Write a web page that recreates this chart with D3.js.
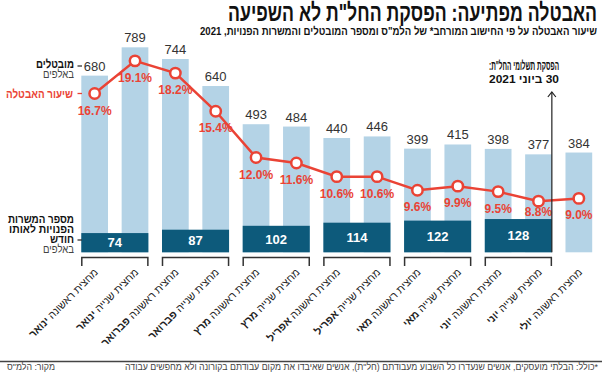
<!DOCTYPE html>
<html>
<head>
<meta charset="utf-8">
<script src="https://cdn.jsdelivr.net/npm/d3@7"></script>
<style>
    body { margin: 0; background: #fff; }
    svg { display: block; font-family: "Liberation Sans Narrow", "Liberation Sans", "DejaVu Sans", sans-serif; }
    .rtl { direction: rtl; unicode-bidi: embed; }
</style>
</head>
<body>
<svg id="chart" width="602" height="372"></svg>
<script>
// data
const categories = [
    'מחצית ראשונה ינואר', 'מחצית שנייה ינואר',
    'מחצית ראשונה פברואר', 'מחצית שנייה פברואר',
    'מחצית ראשונה מרץ', 'מחצית שנייה מרץ',
    'מחצית ראשונה אפריל', 'מחצית שנייה אפריל',
    'מחצית ראשונה מאי', 'מחצית שנייה מאי',
    'מחצית ראשונה יוני', 'מחצית שנייה יוני',
    'מחצית ראשונה יולי'
];
const unemployed = [680, 789, 744, 640, 493, 484, 440, 446, 399, 415, 398, 377, 384];
const unemploymentRate = [16.7, 19.1, 18.2, 15.4, 12.0, 11.6, 10.6, 10.6, 9.6, 9.9, 9.5, 8.8, 9.0];
const months = ['ינואר', 'פברואר', 'מרץ', 'אפריל', 'מאי', 'יוני'];
const vacancies = [74, 87, 102, 114, 122, 128];

const lightBlue = '#b4d3e6';
const darkBlue = '#0d5a7b';
const red = '#ea4335';

const svg = d3.select('#chart');

// right-aligned hebrew text, squeezed to the width it has in the print version
function heb(parent, str, xPos, yPos, size, width) {
    const t = parent.append('text')
        .attr('class', 'rtl')
        .attr('x', xPos).attr('y', yPos)
        .attr('text-anchor', 'start')
        .attr('font-size', size)
        .text(str);
    if (width) t.attr('textLength', width).attr('lengthAdjust', 'spacingAndGlyphs');
    return t;
}

const x = d3.scaleBand()
    .domain(d3.range(categories.length))
    .range([81.3, 592.2])
    .paddingInner(0.338)
    .paddingOuter(0);

const baseY = 252.3;
const yCount = d3.scaleLinear().domain([0, 800]).range([baseY, baseY - 800 * 0.2598]);
const yRate = d3.scaleLinear().domain([0, 20]).range([321, 48.6]);

// title
heb(svg, 'האבטלה מפתיעה: הפסקת החל"ת לא השפיעה', 597, 21, 24, 369)
    .attr('font-weight', 'bold').attr('fill', '#111');
heb(svg, 'שיעור האבטלה על פי החישוב המורחב* של הלמ"ס ומספר המובטלים והמשרות הפנויות, 2021', 597, 35, 11.5, 397)
    .attr('font-weight', 'bold').attr('fill', '#111');

// light bars: unemployed
svg.append('g')
    .selectAll('rect')
    .data(unemployed)
    .enter().append('rect')
    .attr('x', (d, i) => x(i))
    .attr('y', d => yCount(d))
    .attr('width', x.bandwidth())
    .attr('height', d => baseY - yCount(d))
    .attr('fill', lightBlue);

svg.append('g')
    .selectAll('text')
    .data(unemployed)
    .enter().append('text')
    .attr('x', (d, i) => x(i) + x.bandwidth() / 2)
    .attr('y', d => yCount(d) - 5)
    .attr('text-anchor', 'middle')
    .attr('font-size', 13).attr('fill', '#333')
    .text(d => d);

// dark bars: vacancies, one per month spanning both halves
const pairX = i => x(i * 2);
const pairW = i => x(i * 2 + 1) + x.bandwidth() - x(i * 2);

svg.append('g')
    .selectAll('rect')
    .data(vacancies)
    .enter().append('rect')
    .attr('x', (d, i) => pairX(i))
    .attr('y', d => yCount(d))
    .attr('width', (d, i) => pairW(i))
    .attr('height', d => baseY - yCount(d))
    .attr('fill', darkBlue);

svg.append('g')
    .selectAll('text')
    .data(vacancies)
    .enter().append('text')
    .attr('x', (d, i) => pairX(i) + pairW(i) / 2)
    .attr('y', d => (yCount(d) + baseY) / 2 + 4.5)
    .attr('text-anchor', 'middle')
    .attr('font-size', 13).attr('font-weight', 'bold').attr('fill', '#fff')
    .text(d => d);

// month brackets
const brackets = svg.append('g')
    .attr('fill', 'none').attr('stroke', '#333').attr('stroke-width', 1.5);
months.forEach((m, i) => {
    const x0 = pairX(i) + 0.5, x1 = pairX(i) + pairW(i) - 0.5;
    brackets.append('path')
        .attr('d', `M${x0},266 V257.5 H${x1} V266`);
});

// category labels, rotated
const labels = svg.append('g');
categories.forEach((c, i) => {
    const cut = c.lastIndexOf(' ');
    const t = labels.append('text')
        .attr('class', 'rtl')
        .attr('text-anchor', 'start')
        .attr('font-size', 10.5).attr('fill', '#222')
        .attr('transform', `translate(${x(i) + x.bandwidth() / 2 + 4},${273}) rotate(-45)`);
    t.append('tspan').text(c.slice(0, cut + 1));
    t.append('tspan').attr('font-weight', 'bold').text(c.slice(cut + 1));
});

// unemployment rate line
const line = d3.line()
    .x((d, i) => x(i) + x.bandwidth() / 2)
    .y(d => yRate(d));

svg.append('path')
    .datum(unemploymentRate)
    .attr('d', line)
    .attr('fill', 'none')
    .attr('stroke', red)
    .attr('stroke-width', 2.5);

svg.append('g')
    .selectAll('circle')
    .data(unemploymentRate)
    .enter().append('circle')
    .attr('cx', (d, i) => x(i) + x.bandwidth() / 2)
    .attr('cy', d => yRate(d))
    .attr('r', 5.2)
    .attr('fill', '#fff')
    .attr('stroke', red)
    .attr('stroke-width', 2.5);

svg.append('g')
    .selectAll('text')
    .data(unemploymentRate)
    .enter().append('text')
    .attr('x', (d, i) => x(i) + x.bandwidth() / 2)
    .attr('y', (d, i) => {
        const v = vacancies[Math.floor(i / 2)];
        const below = yRate(d) + 21;
        return v === undefined ? below : Math.min(below, yCount(v) - 3);
    })
    .attr('text-anchor', 'middle')
    .attr('font-size', 12).attr('font-weight', 'bold').attr('fill', red)
    .text(d => d.toFixed(1) + '%');

// legend on the left
const legend = svg.append('g');
heb(legend, 'מובטלים', 74, 68, 12, 38).attr('font-weight', 'bold').attr('fill', '#111');
heb(legend, 'באלפים', 74, 78, 11, 31).attr('fill', '#444');
heb(legend, 'שיעור האבטלה', 73, 97.5, 12, 67).attr('font-weight', 'bold').attr('fill', red);

[['מספר המשרות', 66], ['הפנויות לאותו', 65], ['חודש', 24]].forEach((s, i) => {
    heb(legend, s[0], 74, 223 + i * 10, 11, s[1]).attr('font-weight', 'bold').attr('fill', '#111');
});
heb(legend, 'באלפים', 74, 253, 11, 31).attr('fill', '#444');

legend.selectAll('line.dash')
    .data([[66, '#333'], [93.5, red], [240, '#333']])
    .enter().append('line')
    .attr('x1', 77.5).attr('x2', 82)
    .attr('y1', d => d[0]).attr('y2', d => d[0])
    .attr('stroke', d => d[1]).attr('stroke-width', 1.3);

// annotation: end of furlough payments
const arrowX = pairX(5) + pairW(5);
svg.append('line')
    .attr('x1', arrowX).attr('x2', arrowX)
    .attr('y1', 92).attr('y2', baseY)
    .attr('stroke', '#222').attr('stroke-width', 1.2);
svg.append('path')
    .attr('d', `M${arrowX - 4},97 L${arrowX},92 L${arrowX + 4},97`)
    .attr('fill', 'none').attr('stroke', '#222').attr('stroke-width', 1.2);
heb(svg, 'הפסקת תשלומי החל"ת:', 559, 70, 12.5, 70).attr('font-weight', 'bold').attr('fill', '#111');
heb(svg, '30 ביוני 2021', 559, 82.5, 11.5, 70).attr('font-weight', 'bold').attr('fill', '#111');

// footer
svg.append('line')
    .attr('x1', 0).attr('x2', 602)
    .attr('y1', 361.5).attr('y2', 361.5)
    .attr('stroke', '#444').attr('stroke-width', 1.5);
heb(svg, '*כולל: הבלתי מועסקים, אנשים שנעדרו כל השבוע מעבודתם (חל"ת), אנשים שאיבדו את מקום עבודתם בקורונה ולא מחפשים עבודה', 598, 370, 9.5, 473)
    .attr('fill', '#444');
heb(svg, 'מקור: הלמ"ס', 55, 370, 9.5, 48).attr('fill', '#444');
</script>
</body>
</html>
